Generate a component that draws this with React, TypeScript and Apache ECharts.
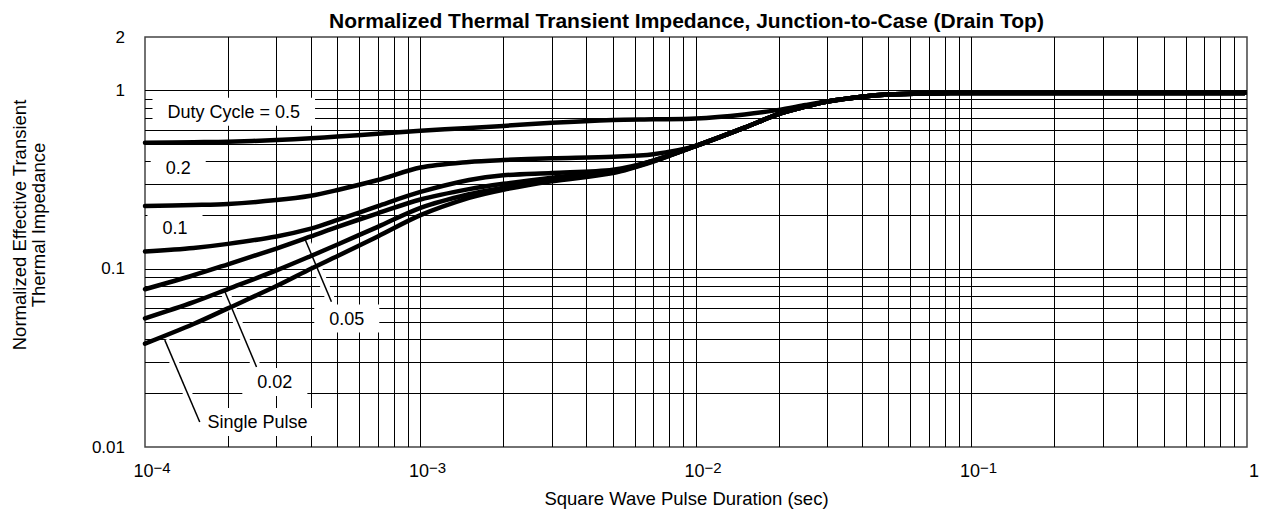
import React, { useEffect, useRef } from "react";
import * as echarts from "echarts";

// ---- data ----
const pulseDuration = [1e-4, 1.5e-4, 2e-4, 3e-4, 4e-4, 5e-4, 7e-4, 1e-3, 1.5e-3, 2e-3, 3e-3, 5e-3, 7e-3, 1e-2, 1.5e-2, 2e-2, 2.5e-2, 3e-2, 4e-2, 5e-2, 7e-2, 0.1, 0.2, 0.5, 0.98];
const duty050 = [0.51, 0.514, 0.517, 0.528, 0.54, 0.553, 0.572, 0.595, 0.618, 0.634, 0.66, 0.684, 0.69, 0.697, 0.735, 0.78, 0.83, 0.87, 0.925, 0.952, 0.965, 0.97, 0.97, 0.97, 0.97];
const duty020 = [0.225, 0.228, 0.231, 0.243, 0.257, 0.277, 0.315, 0.37, 0.398, 0.408, 0.417, 0.426, 0.44, 0.49, 0.62, 0.74, 0.815, 0.87, 0.925, 0.952, 0.965, 0.97, 0.97, 0.97, 0.97];
const duty010 = [0.125, 0.131, 0.138, 0.152, 0.168, 0.188, 0.225, 0.27, 0.315, 0.335, 0.345, 0.36, 0.405, 0.49, 0.62, 0.74, 0.815, 0.87, 0.925, 0.952, 0.965, 0.97, 0.97, 0.97, 0.97];
const duty005 = [0.0768, 0.092, 0.106, 0.13, 0.152, 0.172, 0.205, 0.245, 0.28, 0.3, 0.325, 0.352, 0.405, 0.49, 0.62, 0.74, 0.815, 0.87, 0.925, 0.952, 0.965, 0.97, 0.97, 0.97, 0.97];
const duty002 = [0.0527, 0.065, 0.077, 0.098, 0.118, 0.137, 0.172, 0.22, 0.262, 0.285, 0.315, 0.348, 0.402, 0.49, 0.62, 0.74, 0.815, 0.87, 0.925, 0.952, 0.965, 0.97, 0.97, 0.97, 0.97];
const singlePulse = [0.038, 0.049, 0.06, 0.08, 0.1, 0.118, 0.152, 0.2, 0.25, 0.278, 0.31, 0.345, 0.4, 0.49, 0.62, 0.74, 0.815, 0.87, 0.925, 0.952, 0.965, 0.97, 0.97, 0.97, 0.97];

const curves = [duty050, duty020, duty010, duty005, duty002, singlePulse];

// axis extents and gridline values
const xMin = 1e-4;
const xMax = 1;
const yMin = 0.01;
const yMax = 2;
const xGridValues = [
  2e-4, 3e-4, 4e-4, 5e-4, 6e-4, 7e-4, 8e-4, 9e-4,
  1e-3, 2e-3, 3e-3, 4e-3, 5e-3, 6e-3, 7e-3, 8e-3, 9e-3,
  1e-2, 2e-2, 3e-2, 4e-2, 5e-2, 6e-2, 7e-2, 8e-2, 9e-2,
  0.1, 0.2, 0.3, 0.4, 0.5, 0.6, 0.7, 0.8, 0.9,
];
const yGridValues = [
  0.02, 0.03, 0.04, 0.05, 0.06, 0.07, 0.08, 0.09,
  0.1, 0.2, 0.3, 0.4, 0.5, 0.6, 0.7, 0.8, 0.9, 1,
];

// curve labels (anchored in data space)
const labelTexts = ["Duty Cycle = 0.5", "0.2", "0.1", "0.05", "0.02", "Single Pulse"];
const labelX = [2.1e-4, 1.32e-4, 1.285e-4, 5.4e-4, 2.96e-4, 2.56e-4];
const labelY = [0.762, 0.366, 0.1686, 0.0526, 0.0232, 0.0138];

// arrows: tail -> tip (data space)
const arrowTail = [[4.75e-4, 0.0653], [2.54e-4, 0.0281], [1.58e-4, 0.0138]];
const arrowTip = [[3.8e-4, 0.148], [1.95e-4, 0.0743], [1.18e-4, 0.0398]];

const FONT = "'Liberation Sans', Arial, Helvetica, sans-serif";

function buildOption() {
  const curveSeries = curves.map((arr, i) => ({
    type: "line",
    name: labelTexts[i],
    data: pulseDuration.map((x, j) => [x, arr[j]]),
    showSymbol: false,
    symbol: "none",
    smooth: 0.3,
    z: 10,
    silent: true,
    lineStyle: { color: "#000", width: 4.5, cap: "round", join: "round" },
  }));

  const gridSeries = {
    type: "line",
    name: "grid",
    data: [],
    silent: true,
    markLine: {
      silent: true,
      z: 1,
      precision: 10,
      symbol: ["none", "none"],
      label: { show: false },
      lineStyle: { color: "#000", width: 1, type: "solid" },
      emphasis: { disabled: true },
      data: [
        ...xGridValues.map((v) => [{ coord: [v, yMin] }, { coord: [v, yMax] }]),
        ...yGridValues.map((v) => [{ coord: [xMin, v] }, { coord: [xMax, v] }]),
      ],
    },
  };

  const haloSeries = {
    type: "line",
    name: "halo",
    data: [],
    silent: true,
    markLine: {
      silent: true,
      z: 3,
      precision: 10,
      symbol: ["none", "none"],
      label: { show: false },
      lineStyle: { color: "#fff", width: 9, type: "solid" },
      emphasis: { disabled: true },
      data: arrowTail.map((t, i) => [{ coord: t }, { coord: arrowTip[i] }]),
    },
    markPoint: {
      silent: true,
      z: 3,
      symbol: "circle",
      symbolSize: 0,
      label: {
        show: true,
        position: "inside",
        color: "#000",
        fontSize: 18,
        fontFamily: FONT,
        backgroundColor: "#fff",
        padding: [5, 15, 5, 15],
        formatter: (p: any) => p.name,
      },
      data: labelTexts.map((t, i) => ({ name: t, coord: [labelX[i], labelY[i]] })),
    },
  };

  const arrowSeries = {
    type: "line",
    name: "arrows",
    data: [],
    silent: true,
    markLine: {
      silent: true,
      z: 4,
      precision: 10,
      symbol: ["none", "arrow"],
      symbolSize: [0, 11],
      label: { show: false },
      lineStyle: { color: "#000", width: 1.5, type: "solid" },
      itemStyle: { color: "#000" },
      emphasis: { disabled: true },
      data: arrowTail.map((t, i) => [{ coord: t }, { coord: arrowTip[i] }]),
    },
  };

  return {
    animation: false,
    backgroundColor: "#fff",
    textStyle: { fontFamily: FONT },
    grid: {
      left: 145,
      right: 12,
      top: 37,
      bottom: 64,
      show: true,
      borderColor: "#444",
      borderWidth: 1.5,
      backgroundColor: "transparent",
    },
    xAxis: {
      type: "log",
      logBase: 10,
      min: xMin,
      max: xMax,
      axisLine: { show: false },
      axisTick: { show: false },
      splitLine: { show: false },
      axisLabel: {
        margin: 13,
        color: "#000",
        padding: [0, 0, 0, 14],
        formatter: (v: number) => {
          const e = Math.round(Math.log10(v));
          if (e === 0) return "{b|1}";
          return "{b|10}{s|−" + -e + "}";
        },
        rich: {
          b: { fontSize: 18, lineHeight: 22, fontFamily: FONT, color: "#000" },
          s: { fontSize: 15, lineHeight: 13, verticalAlign: "top", fontFamily: FONT, color: "#000" },
        },
      },
    },
    yAxis: {
      type: "log",
      logBase: 10,
      min: yMin,
      max: yMax,
      axisLine: { show: false },
      axisTick: { show: false },
      splitLine: { show: false },
      axisLabel: {
        margin: 20,
        color: "#000",
        fontSize: 17,
        fontFamily: FONT,
        showMaxLabel: true,
        showMinLabel: true,
        formatter: (v: number) => {
          if (Math.abs(v - 2) < 1e-6) return "2";
          if (Math.abs(v - 1) < 1e-6) return "1";
          if (Math.abs(v - 0.1) < 1e-6) return "0.1";
          if (Math.abs(v - 0.01) < 1e-6) return "0.01";
          return "";
        },
      },
    },
    graphic: [
      {
        type: "text",
        x: 686.5,
        y: 20,
        silent: true,
        style: {
          text: "Normalized Thermal Transient Impedance, Junction-to-Case (Drain Top)",
          fill: "#000",
          fontSize: 21,
          fontWeight: "bold",
          fontFamily: FONT,
          align: "center",
          verticalAlign: "middle",
        },
      },
      {
        type: "text",
        x: 686.5,
        y: 498,
        silent: true,
        style: {
          text: "Square Wave Pulse Duration (sec)",
          fill: "#000",
          fontSize: 18.5,
          fontFamily: FONT,
          align: "center",
          verticalAlign: "middle",
        },
      },
      {
        type: "text",
        x: 29,
        y: 225,
        rotation: Math.PI / 2,
        silent: true,
        style: {
          text: "Normalized Effective Transient\nThermal Impedance",
          fill: "#000",
          fontSize: 18.5,
          lineHeight: 19,
          fontFamily: FONT,
          align: "center",
          verticalAlign: "middle",
        },
      },
    ],
    series: [gridSeries, haloSeries, arrowSeries, ...curveSeries],
  };
}

export default function App() {
  const ref = useRef<HTMLDivElement>(null);
  useEffect(() => {
    if (!ref.current) return;
    const chart = echarts.init(ref.current, undefined, { renderer: "svg" });
    chart.setOption(buildOption() as any);
    return () => chart.dispose();
  }, []);
  return (
    <div
      ref={ref}
      style={{ position: "absolute", left: 0, top: 0, width: 1262, height: 511, background: "#fff" }}
    />
  );
}
